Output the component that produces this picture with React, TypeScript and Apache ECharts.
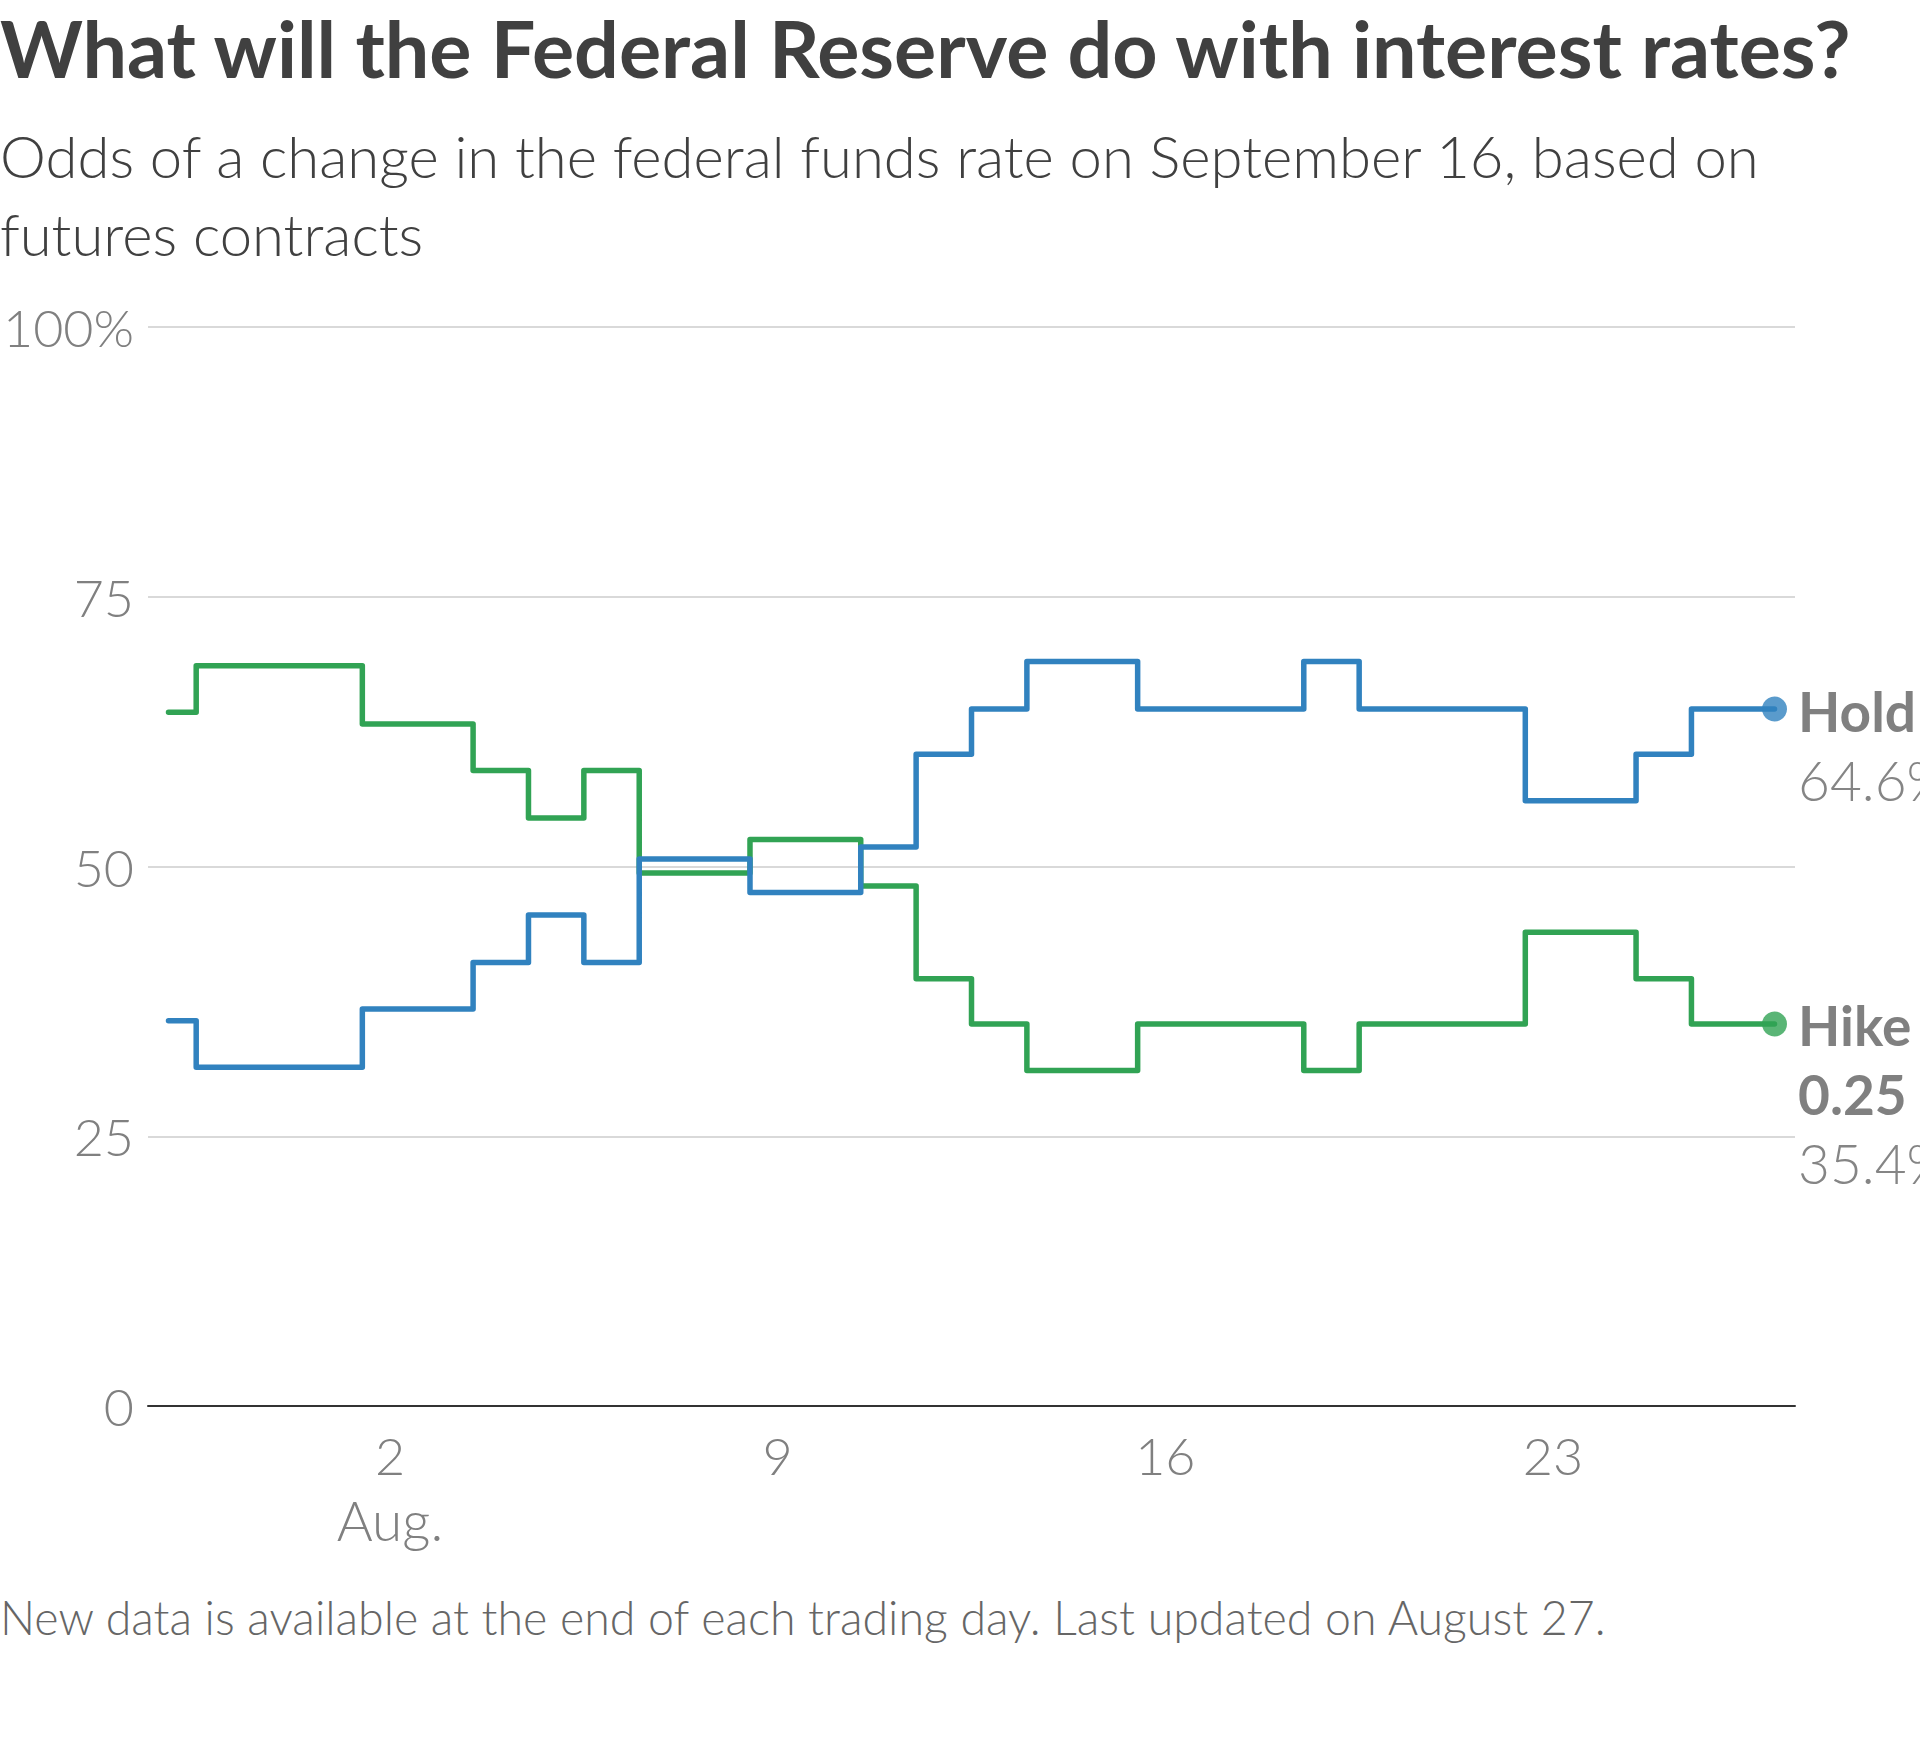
import * as echarts from "echarts";
import { useEffect, useRef } from "react";

const tradingDays = [
  "2015-07-29", "2015-07-30", "2015-07-31",
  "2015-08-03", "2015-08-04", "2015-08-05", "2015-08-06", "2015-08-07",
  "2015-08-10", "2015-08-11", "2015-08-12", "2015-08-13", "2015-08-14",
  "2015-08-17", "2015-08-18", "2015-08-19", "2015-08-20", "2015-08-21",
  "2015-08-24", "2015-08-25", "2015-08-26", "2015-08-27",
];
const holdOdds = [
  35.7, 31.4, 31.4, 36.8, 41.1, 45.5, 41.1, 50.7, 47.6, 51.8, 60.4,
  64.6, 69.0, 64.6, 64.6, 69.0, 64.6, 64.6, 56.1, 60.4, 64.6, 64.6,
];
const hikeOdds = [
  64.3, 68.6, 68.6, 63.2, 58.9, 54.5, 58.9, 49.4, 52.5, 48.2, 39.6,
  35.4, 31.1, 35.4, 35.4, 31.1, 35.4, 35.4, 43.9, 39.6, 35.4, 35.4,
];
const seriesNames = ["Hold", "Hike"];
const hikeSize = "0.25";
const xTickDays = [2, 9, 16, 23];
const yTicks = [0, 25, 50, 75, 100];

const BLUE = "#3182bf";
const GREEN = "#31a354";
const FONT = "Lato, 'Noto Sans', sans-serif";

// day of August (Jul 31 = 0)
function dayOfAug(s) {
  return (Date.parse(s) - Date.parse("2015-07-31")) / 864e5;
}

export default function App() {
  const chartRef = useRef(null);
  useEffect(() => {
    document.body.style.margin = "0";
    const chart = echarts.init(chartRef.current, null, { renderer: "svg" });
    chart.setOption(getChartOption());
    return () => {
      chart.dispose();
    };
  }, []);
  return <div ref={chartRef} style={{ width: "1920px", height: "1747px" }} />;
}

function getChartOption() {
  const xs = tradingDays.map(dayOfAug);
  const hold = xs.map((x, i) => [x, holdOdds[i]]);
  const hike = xs.map((x, i) => [x, hikeOdds[i]]);
  const last = xs.length - 1;

  const lineStyle = (color) => ({ color, width: 5.5, join: "round", cap: "round" });

  return {
    animation: false,
    backgroundColor: "#fff",
    textStyle: { fontFamily: FONT },
    graphic: [
      {
        type: "text",
        left: 0,
        top: 8,
        style: {
          text: "What will the Federal Reserve do with interest rates?",
          font: `bold 79px ${FONT}`,
          fill: "#404040",
        },
      },
      {
        type: "text",
        left: 0,
        top: 116,
        style: {
          text: "Odds of a change in the federal funds rate on September 16, based on\nfutures contracts",
          font: `300 58px ${FONT}`,
          lineHeight: 78,
          fill: "#404040",
        },
      },
      {
        type: "text",
        left: 0,
        top: 1593,
        style: {
          text: "New data is available at the end of each trading day. Last updated on August 27.",
          font: `300 46.5px ${FONT}`,
          fill: "#666",
        },
      },
    ],
    grid: { left: 144.5, right: 125, top: 327, bottom: 341 },
    xAxis: {
      type: "value",
      min: -2.37,
      max: 27.37,
      splitLine: { show: false },
      axisTick: { show: false },
      axisLine: { show: true, lineStyle: { color: "#333", width: 2 } },
      axisLabel: {
        customValues: xTickDays,
        margin: 16,
        color: "#808080",
        fontFamily: FONT,
        fontWeight: 300,
        fontSize: 52,
        lineHeight: 65,
        formatter: (v) => (v === xTickDays[0] ? `${v}\n{m|Aug.}` : `${v}`),
        rich: {
          m: { fontFamily: FONT, fontWeight: 300, fontSize: 55, lineHeight: 65, color: "#808080" },
        },
      },
    },
    yAxis: {
      type: "value",
      min: yTicks[0],
      max: yTicks[yTicks.length - 1],
      interval: 25,
      axisLine: { show: false },
      axisTick: { show: false },
      splitLine: { lineStyle: { color: "#ccc", width: 1.5 } },
      axisLabel: {
        margin: 14,
        color: "#808080",
        fontFamily: FONT,
        fontWeight: 300,
        fontSize: 52,
        formatter: (v) => (v === 100 ? "100%" : `${v}`),
      },
    },
    series: [
      {
        name: seriesNames[0],
        type: "line",
        step: "middle",
        data: hold,
        showSymbol: false,
        lineStyle: lineStyle(BLUE),
        z: 3,
      },
      {
        name: seriesNames[1],
        type: "line",
        step: "middle",
        data: hike,
        showSymbol: false,
        lineStyle: lineStyle(GREEN),
        z: 2,
      },
      {
        type: "scatter",
        symbolSize: 25,
        z: 4,
        data: [
          {
            value: hold[last],
            itemStyle: { color: BLUE },
            label: {
              offset: [0, 37],
              formatter: `{b|${seriesNames[0]}}\n{n|${holdOdds[last]}%}`,
            },
          },
          {
            value: hike[last],
            itemStyle: { color: GREEN },
            label: {
              offset: [0, 70],
              formatter: `{b|${seriesNames[1]}}\n{b|${hikeSize}}\n{n|${hikeOdds[last]}%}`,
            },
          },
        ],
        label: {
          show: true,
          position: "right",
          distance: 11,
          align: "left",
          rich: {
            b: { fontFamily: FONT, fontWeight: "bold", fontSize: 55, lineHeight: 69, color: "#606060" },
            n: { fontFamily: FONT, fontWeight: 300, fontSize: 55, lineHeight: 69, color: "#666" },
          },
        },
      },
    ],
  };
}
